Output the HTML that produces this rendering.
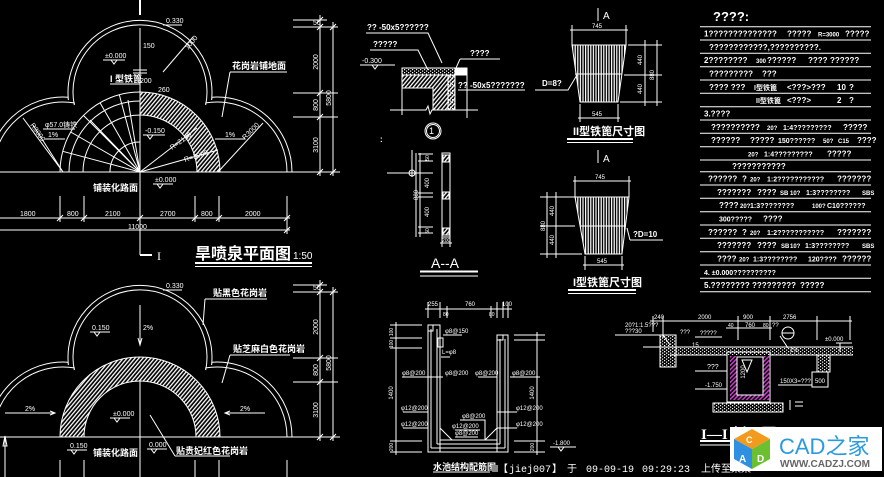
<!DOCTYPE html>
<html><head><meta charset="utf-8"><style>
html,body{margin:0;padding:0;background:#000;width:884px;height:477px;overflow:hidden}
svg{display:block}
text{font-family:"Liberation Sans","Noto Sans CJK SC",sans-serif;fill:#fff;stroke:none}
.s{font-size:7px}
.b{font-size:8px;font-weight:bold}
.k{font-size:9px;font-weight:bold}
</style></head><body>
<svg width="884" height="477" viewBox="0 0 884 477" xmlns="http://www.w3.org/2000/svg">
<defs>
<pattern id="h" width="3" height="3" patternUnits="userSpaceOnUse" patternTransform="rotate(40)"><rect width="1.3" height="3" fill="#fff"/></pattern>
<pattern id="v" width="2.6" height="4" patternUnits="userSpaceOnUse"><rect width="1.2" height="4" fill="#fff"/></pattern>
<pattern id="d" width="4" height="3" patternUnits="userSpaceOnUse"><rect x="0" y="0" width="1.2" height="1.2" fill="#fff"/><rect x="2" y="1.5" width="1.2" height="1.2" fill="#fff"/></pattern>
<pattern id="m" width="3" height="3" patternUnits="userSpaceOnUse" patternTransform="rotate(45)"><rect width="1.4" height="3" fill="#d040d0"/></pattern>
<g id="tre" stroke="#fff" fill="none" stroke-width="1">
<path d="M -12 172 A 75 75 0 0 1 68 97.2 L 68.4 100 A 72 72 0 1 1 211.6 100 L 212 97.2 A 75 75 0 0 1 292 172"/>
<path d="M -7 172 A 70 70 0 0 1 74.3 102.9 L 74.3 105 A 67 67 0 1 1 205.7 105 L 205.7 102.9 A 70 70 0 0 1 287 172"/>
<line x1="0" y1="172" x2="340" y2="172"/>
<line x1="293" y1="20" x2="327" y2="20"/>
<line x1="293" y1="27" x2="338" y2="27"/>
<line x1="293" y1="93" x2="338" y2="93"/>
<line x1="293" y1="117" x2="338" y2="117"/>
<line x1="320" y1="15" x2="320" y2="176"/>
<line x1="333" y1="22" x2="333" y2="176"/>
<path d="M317 23 L323 17 M317 30 L323 24 M317 96 L323 90 M317 120 L323 114 M317 175 L323 169 M330 30 L336 24 M330 175 L336 169"/>
</g>
</defs>

<!-- ========== TOP PLAN ========== -->
<use href="#tre"/>
<g stroke="#fff" fill="none" stroke-width="1">
<line x1="140" y1="0" x2="140" y2="15" stroke-width="2"/>
<line x1="140" y1="28" x2="140" y2="255"/>
<line x1="140" y1="255" x2="152" y2="255" stroke-width="2"/>
<line x1="133" y1="70" x2="147" y2="70"/><line x1="133" y1="73" x2="147" y2="73"/>
<!-- hatched quarter ring -->
<path d="M 220 172 A 80 80 0 0 0 140 92 L 140 115 A 57 57 0 0 1 197 172 Z" fill="url(#h)"/>
<!-- left fan -->
<path d="M 60 172 A 80 80 0 0 1 140 92"/>
<path d="M 69 172 A 71 71 0 0 1 140 101"/>
<path d="M 83 172 A 57 57 0 0 1 140 115"/>
<path d="M 110 172 A 30 30 0 0 1 140 142"/>
<path d="M140 172 L119.3 94.7 M140 172 L100 102.7 M140 172 L83.4 115.4 M140 172 L70.7 132 M140 172 L62.7 151.3 M140 172 L128 100 M140 172 L90 120"/>
<path d="M63 172 L23 118 M63 172 L33 125"/>
<path d="M218 172 L263 123"/>
<path d="M140 172 L197 128 M140 172 L218 150"/>
<path d="M163 72 L193 37"/>
<!-- bottom dims -->
<line x1="0" y1="218" x2="290" y2="218"/>
<line x1="0" y1="230" x2="290" y2="230"/>
<path d="M60 196 V222 M84 196 V222 M195 196 V222 M219 196 V222 M287 196 V234"/>
<path d="M57 221 L63 215 M81 221 L87 215 M137 221 L143 215 M192 221 L198 215 M216 221 L222 215 M284 221 L290 215 M284 233 L290 227"/>
<!-- leaders / underlines -->
<path d="M163 25 H182"/>
<path d="M103 60 H125 M111 60 L114 64 L117 60"/>
<path d="M110 84 H140"/>
<path d="M230 72 H287 M230 72 L222 117"/>
<path d="M43 129 H75"/>
<path d="M45 139 H65"/>
<path d="M143 135 H165 M147 135 L150 139 L153 135"/>
<path d="M215 139 H245"/>
<path d="M153 184 H173 M157 184 L160 188 L163 184"/>
<!-- title underline -->
<line x1="195" y1="263" x2="312" y2="263" stroke-width="2"/>
<line x1="195" y1="266.5" x2="312" y2="266.5"/>
</g>
<g>
<text x="166" y="23" class="s">0.330</text>
<text x="105" y="58" class="s">±0.000</text>
<text x="143" y="48" class="s">150</text>
<text x="110" y="82" class="k">I 型铁篦</text>
<text x="130" y="83" class="s" dx="10">200</text>
<text x="158" y="92" class="s">260</text>
<text x="232" y="69" class="k">花岗岩铺地面</text>
<text x="45" y="127" class="s">φ57.0铸铁</text>
<text x="48" y="137" class="s">1%</text>
<text x="145" y="133" class="s">-0.150</text>
<text x="225" y="137" class="s">1%</text>
<text x="93" y="191" class="k">铺装化路面</text>
<text x="155" y="182" class="s">±0.000</text>
<text x="20" y="216" class="s">1800</text>
<text x="67" y="216" class="s">800</text>
<text x="105" y="216" class="s">2100</text>
<text x="160" y="216" class="s">2700</text>
<text x="201" y="216" class="s">800</text>
<text x="245" y="216" class="s">2000</text>
<text x="128" y="229" class="s">11000</text>
<text x="157" y="260" style="font-size:12px;font-family:'Liberation Serif',serif">I</text>
<text x="195" y="259" style="font-size:16px;font-weight:bold">旱喷泉平面图</text>
<text x="293" y="259" style="font-size:10px">1:50</text>
<text transform="translate(318,62) rotate(-90)" class="s" text-anchor="middle">2000</text>
<text transform="translate(318,105) rotate(-90)" class="s" text-anchor="middle">800</text>
<text transform="translate(318,145) rotate(-90)" class="s" text-anchor="middle">3100</text>
<text transform="translate(331,98) rotate(-90)" class="s" text-anchor="middle">5800</text>
<text x="313" y="25" class="s">50</text>
<text transform="translate(188,50) rotate(-50)" class="s">1000</text>
<text transform="translate(245,140) rotate(-45)" class="s">R3000</text>
<text transform="translate(30,125) rotate(55)" class="s">R3000</text>
<text transform="translate(172,150) rotate(-35)" class="s">R=2130</text>
<text transform="translate(185,162) rotate(-18)" class="s">R=3000</text>
</g>

<!-- ========== LOWER PLAN ========== -->
<use href="#tre" y="265"/>
<g stroke="#fff" fill="none" stroke-width="1">
<path d="M 60 437 A 80 80 0 0 1 220 437 L 196 437 A 56 56 0 0 0 84 437 Z" fill="url(#h)"/>
<line x1="140" y1="305" x2="140" y2="345"/>
<path d="M138 338 L140 345 L142 338"/>
<line x1="140" y1="380" x2="140" y2="477"/>
<path d="M60 460 V477 M84 460 V477 M195 460 V477 M219 460 V477 M287 460 V477"/>
<path d="M163 290 H182"/>
<path d="M205 299 H267 M205 299 L203 325"/>
<path d="M90 332 H110 M94 332 L97 336 L100 332"/>
<path d="M230 355 H290 M230 355 L222 383"/>
<path d="M5 413 H55 M50 411 L55 413 L50 415"/>
<path d="M110 418 H130 M114 418 L117 422 L120 418"/>
<path d="M225 413 H265 M230 411 L225 413 L230 415"/>
<path d="M67 450 H87 M71 450 L74 454 L77 450"/>
<path d="M147 449 H167 M151 449 L154 453 L157 449"/>
<path d="M175 456 H230 M175 456 L150 415"/>
<path d="M5 437 V477 M3 446 L5 436 L7 446 Z"/>
</g>
<g>
<text x="166" y="288" class="s">0.330</text>
<text x="213" y="296" class="k">贴黑色花岗岩</text>
<text x="92" y="330" class="s">0.150</text>
<text x="143" y="330" class="s">2%</text>
<text x="233" y="352" class="k">贴芝麻白色花岗岩</text>
<text x="25" y="411" class="s">2%</text>
<text x="113" y="416" class="s">±0.000</text>
<text x="240" y="411" class="s">2%</text>
<text x="70" y="448" class="s">0.150</text>
<text x="93" y="456" class="k">铺装化路面</text>
<text x="149" y="447" class="s">0.000</text>
<text x="176" y="454" class="k">贴贵妃红色花岗岩</text>
<text transform="translate(318,327) rotate(-90)" class="s" text-anchor="middle">2000</text>
<text transform="translate(318,370) rotate(-90)" class="s" text-anchor="middle">800</text>
<text transform="translate(318,410) rotate(-90)" class="s" text-anchor="middle">3100</text>
<text transform="translate(331,363) rotate(-90)" class="s" text-anchor="middle">5800</text>
<text x="313" y="290" class="s">50</text>
</g>

<!-- ========== DETAIL 1 ========== -->
<g stroke="#fff" fill="none" stroke-width="1">
<path d="M366 33 H428 L442 63"/>
<path d="M370 50 H418 L428 70"/>
<path d="M360 65 H395 M372 65 L375 69 L378 65"/>
<path d="M460 59 H500 M460 59 L456 68"/>
<rect x="402" y="68" width="53" height="7" fill="url(#d)"/>
<rect x="455" y="68" width="12" height="7" fill="#fff"/>
<path d="M402 75 H455 V110 H433 V88 H402 Z" fill="url(#h)"/>
<rect x="448" y="75" width="7" height="35" fill="url(#d)"/>
<path d="M390 110 H426 L428 106 L430 114 L432 110 H478"/>
<path d="M402 88 V115 M467 75 V118"/>
<path d="M458 90 H525"/>
<circle cx="433" cy="131" r="8"/><circle cx="433" cy="131" r="6.5"/>
<!-- A-A -->
<path d="M412 150 V177 M416 153 V237 M387 173 H418"/>
<circle cx="412" cy="173" r="3"/>
<path d="M420 153 V237 M418 154 H433 M418 161 H433 M418 173 H433 M418 193 H433 M418 197 H433 M418 227 H433 M418 233 H433"/>
<rect x="442" y="153" width="8" height="84"/>
<rect x="443" y="155" width="6" height="7" fill="url(#h)"/>
<rect x="443" y="192" width="6" height="7" fill="url(#h)"/>
<rect x="443" y="228" width="6" height="7" fill="url(#h)"/>
<path d="M442 237 V247 M450 237 V247 M440 243 H452"/>
<line x1="420" y1="271.5" x2="478" y2="271.5" stroke-width="2"/>
<line x1="420" y1="276" x2="478" y2="276"/>
</g>
<g>
<text x="367" y="30" class="b">?? -50x5??????</text>
<text x="373" y="47" class="b">?????</text>
<text x="362" y="63" class="s">-0.300</text>
<text x="470" y="56" class="b">????</text>
<text x="458" y="88" class="b">?? -50x5???????</text>
<text x="429" y="134" style="font-size:9px">1</text>
<text x="380" y="142" class="b">:</text>
<text transform="translate(429,158) rotate(-90)" style="font-size:5px" text-anchor="middle">50</text>
<text transform="translate(429,183) rotate(-90)" style="font-size:6px" text-anchor="middle">400</text>
<text transform="translate(429,212) rotate(-90)" style="font-size:6px" text-anchor="middle">400</text>
<text transform="translate(429,231) rotate(-90)" style="font-size:5px" text-anchor="middle">50</text>
<text transform="translate(418,195) rotate(-90)" style="font-size:6px" text-anchor="middle">880</text>
<text x="442" y="242" style="font-size:5px">200</text>
<text x="431" y="268" style="font-size:14px">A--A</text>
</g>

<!-- ========== GRATES ========== -->
<g stroke="#fff" fill="none" stroke-width="1">
<path d="M598 8 V21"/>
<path d="M570 30 H628 M572 25 V45 M626 25 V45"/>
<polygon points="572,45 626,45 618,102 580,102" fill="url(#v)"/>
<line x1="575" y1="74" x2="622" y2="74"/>
<path d="M578 118 H620 M580 104 V122 M618 104 V122"/>
<path d="M628 45 H662 M624 75 H662 M620 102 H662 M645 40 V106 M657 40 V106"/>
<path d="M535 90 H568 L577 75"/>
<line x1="567" y1="139" x2="633" y2="139" stroke-width="2"/>
<line x1="567" y1="142.5" x2="633" y2="142.5"/>
<path d="M598 150 V163"/>
<path d="M573 181 H631 M575 176 V197 M629 176 V197"/>
<polygon points="575,197 629,197 622,254 585,254" fill="url(#v)"/>
<line x1="580" y1="226" x2="625" y2="226"/>
<path d="M583 265 H624 M585 256 V270 M622 256 V270"/>
<path d="M540 197 H575 M540 226 H575 M540 254 H582 M547 192 V258 M556 192 V258"/>
<path d="M630 240 L627 228 M630 240 L633 240 H663"/>
<line x1="568" y1="290" x2="636" y2="290" stroke-width="2"/>
<line x1="568" y1="293.5" x2="636" y2="293.5"/>
</g>
<g>
<text x="603" y="19" style="font-size:10px">A</text>
<text x="592" y="28" style="font-size:6px">745</text>
<text x="592" y="116" style="font-size:6px">545</text>
<text transform="translate(642,60) rotate(-90)" style="font-size:6px" text-anchor="middle">440</text>
<text transform="translate(642,89) rotate(-90)" style="font-size:6px" text-anchor="middle">440</text>
<text transform="translate(654,75) rotate(-90)" style="font-size:6px" text-anchor="middle">880</text>
<text x="542" y="86" class="b">D=8?</text>
<text x="573" y="135" style="font-size:11px;font-weight:bold">II型铁篦尺寸图</text>
<text x="603" y="162" style="font-size:10px">A</text>
<text x="595" y="179" style="font-size:6px">745</text>
<text x="597" y="263" style="font-size:6px">545</text>
<text transform="translate(545,226) rotate(-90)" style="font-size:6px" text-anchor="middle">880</text>
<text transform="translate(554,211) rotate(-90)" style="font-size:6px" text-anchor="middle">440</text>
<text transform="translate(554,240) rotate(-90)" style="font-size:6px" text-anchor="middle">440</text>
<text x="633" y="237" class="b">?D=10</text>
<text x="573" y="286" style="font-size:11px;font-weight:bold">I型铁篦尺寸图</text>
</g>

<!-- ========== NOTES ========== -->
<g stroke="#fff" stroke-width="1">
<path d="M700 26.7 H871 M700 40 H871 M700 53.3 H871 M700 66.7 H871 M700 80 H871 M700 93.3 H871 M700 106.7 H871 M700 120 H871 M700 133.3 H871 M700 146.7 H871 M700 160 H871 M700 171.7 H871 M700 185 H871 M700 198.3 H871 M700 211.7 H871 M700 225 H871 M700 238.3 H871 M700 251.7 H871 M700 265 H871 M700 278.3 H871 M700 291.7 H871"/>
</g>
<g class="b">
<text x="713" y="21" style="font-size:13px">????:</text>
<text y="36.5" class="b"><tspan x="704">1??????????????</tspan><tspan x="787">?????</tspan><tspan x="818" style="font-size:6px">R=3000</tspan><tspan x="845">?????</tspan></text>
<text y="50" class="b"><tspan x="709">????????????,??????????.</tspan></text>
<text y="63" class="b"><tspan x="704">2????????</tspan><tspan x="756" style="font-size:6px">300</tspan><tspan x="767">??????</tspan><tspan x="808">????</tspan><tspan x="830">??????</tspan></text>
<text y="76.5" class="b"><tspan x="709">?????????</tspan><tspan x="762">???</tspan></text>
<text y="90" class="b"><tspan x="709">???? ???</tspan><tspan x="754" style="font-size:7px">I型铁篦</tspan><tspan x="787">&lt;???&gt;???</tspan><tspan x="837">10</tspan><tspan x="849">?</tspan></text>
<text y="103" class="b"><tspan x="756" style="font-size:7px">II型铁篦</tspan><tspan x="787">&lt;???&gt;</tspan><tspan x="837">2</tspan><tspan x="849">?</tspan></text>
<text y="116.5" class="b"><tspan x="704">3.????</tspan></text>
<text y="130" class="b"><tspan x="711">??????????</tspan><tspan x="767" style="font-size:6px">20?</tspan><tspan x="783" style="font-size:7px">1:4?????????</tspan><tspan x="843">?????</tspan></text>
<text y="143" class="b"><tspan x="711">??????</tspan><tspan x="750">?????</tspan><tspan x="778" style="font-size:7px">150??????</tspan><tspan x="823" style="font-size:6px">50?</tspan><tspan x="838" style="font-size:6px">C15</tspan><tspan x="857">????</tspan></text>
<text y="156.5" class="b"><tspan x="748" style="font-size:6px">20?</tspan><tspan x="764" style="font-size:7px">1:4?????????</tspan><tspan x="827">?????</tspan></text>
<text y="169" class="b"><tspan x="732">???????????</tspan></text>
<text y="181.5" class="b"><tspan x="708">??????</tspan><tspan x="742">?</tspan><tspan x="750" style="font-size:6px">20?</tspan><tspan x="767" style="font-size:7px">1:2???????????</tspan><tspan x="837">???????</tspan></text>
<text y="195" class="b"><tspan x="717">???????</tspan><tspan x="757">????</tspan><tspan x="780" style="font-size:6px">SB</tspan><tspan x="790" style="font-size:6px">10?</tspan><tspan x="806" style="font-size:7px">1:3????????</tspan><tspan x="862" style="font-size:6px">SBS</tspan></text>
<text y="208" class="b"><tspan x="719">????</tspan><tspan x="740" style="font-size:6px">20?</tspan><tspan x="750" style="font-size:7px">1:3????????</tspan><tspan x="812" style="font-size:6px">100?</tspan><tspan x="827" style="font-size:7px">C10??????</tspan></text>
<text y="221.5" class="b"><tspan x="719" style="font-size:7px">300?????</tspan><tspan x="763">????</tspan></text>
<text y="235" class="b"><tspan x="708">??????</tspan><tspan x="742">?</tspan><tspan x="750" style="font-size:6px">20?</tspan><tspan x="767" style="font-size:7px">1:2???????????</tspan><tspan x="837">???????</tspan></text>
<text y="248" class="b"><tspan x="717">???????</tspan><tspan x="757">????</tspan><tspan x="781" style="font-size:6px">SB</tspan><tspan x="790" style="font-size:6px">10?</tspan><tspan x="805" style="font-size:7px">1:3????????</tspan><tspan x="862" style="font-size:6px">SBS</tspan></text>
<text y="261.5" class="b"><tspan x="717">????</tspan><tspan x="739" style="font-size:6px">20?</tspan><tspan x="753" style="font-size:7px">1:3????????</tspan><tspan x="808" style="font-size:7px">120????</tspan><tspan x="842">??????</tspan></text>
<text y="275" class="b"><tspan x="704" style="font-size:7px">4. ±0.000??????????</tspan></text>
<text y="288" class="b"><tspan x="704">5.????????</tspan><tspan x="752">?????????</tspan><tspan x="800">?????</tspan></text>
</g>

<!-- ========== TANK SECTION ========== -->
<g stroke="#fff" fill="none" stroke-width="1">
<path d="M425 309 H512 M428 302 V318 M440 302 V318 M447 306 V318 M491 306 V318 M497 302 V318 M503 302 V318 M508 302 V318"/>
<rect x="428" y="325" width="12" height="127"/>
<path d="M431 329 V448 M437 329 V444"/>
<rect x="428" y="325" width="5" height="6"/>
<rect x="497" y="335" width="11" height="117"/>
<path d="M500 339 V444 M505 339 V448"/>
<rect x="497" y="335" width="6" height="5"/>
<path d="M440 440 H497 M428 452 H508 M431 448 H505 M437 444 H500"/>
<path d="M440 428 L452 440 M497 428 L485 440"/>
<rect x="438" y="338" width="5" height="9"/>
<path d="M443 335 H462 M441 357 H450"/>
<path d="M396 322 V455 M390 325 H422 M390 338 H422 M390 348 H422 M390 441 H422 M390 452 H422"/>
<path d="M537 332 V455 M514 335 H545 M514 340 H545 M514 441 H545 M514 452 H545"/>
<path d="M402 377 H428 M443 377 H428 M478 377 H497 M510 377 H540"/>
<path d="M403 412 H428 M517 412 H497 M403 428 H428 M517 428 H497"/>
<path d="M460 420 H485 V440 M455 430 H480 M455 437 H478"/>
<path d="M550 447 H576 M558 447 L561 451 L564 447"/>
<line x1="433" y1="472" x2="490" y2="472"/>
</g>
<g style="font-size:6px">
<text x="428" y="306" style="font-size:6px">255</text>
<text x="465" y="306" style="font-size:6px">760</text>
<text x="502" y="306" style="font-size:6px">100</text>
<text x="443" y="316" style="font-size:5px">80</text>
<text x="489" y="316" style="font-size:5px">80</text>
<text x="445" y="333" style="font-size:6px">φ8@150</text>
<text x="442" y="354" style="font-size:6px">L=φ8</text>
<text x="402" y="375" style="font-size:6px">φ8@200</text>
<text x="445" y="375" style="font-size:6px">φ8@200</text>
<text x="475" y="375" style="font-size:6px">φ8@200</text>
<text x="512" y="375" style="font-size:6px">φ8@200</text>
<text x="401" y="410" style="font-size:6px">φ12@200</text>
<text x="516" y="410" style="font-size:6px">φ12@200</text>
<text x="401" y="426" style="font-size:6px">φ12@200</text>
<text x="516" y="426" style="font-size:6px">φ12@200</text>
<text x="462" y="418" style="font-size:6px">φ8@200</text>
<text x="452" y="428" style="font-size:6px">φ12@200</text>
<text x="455" y="435" style="font-size:6px">φ8@200</text>
<text transform="translate(393,332) rotate(-90)" style="font-size:5px" text-anchor="middle">100</text>
<text transform="translate(393,344) rotate(-90)" style="font-size:5px" text-anchor="middle">100</text>
<text transform="translate(393,393) rotate(-90)" style="font-size:6px" text-anchor="middle">1400</text>
<text transform="translate(393,447) rotate(-90)" style="font-size:5px" text-anchor="middle">200</text>
<text transform="translate(534,393) rotate(-90)" style="font-size:6px" text-anchor="middle">1400</text>
<text transform="translate(534,447) rotate(-90)" style="font-size:5px" text-anchor="middle">200</text>
<text x="553" y="445" style="font-size:6px">-1.800</text>
<text x="433" y="470" style="font-size:9px;font-weight:bold">水池结构配筋图</text>
</g>
<rect x="492" y="465" width="6" height="7" fill="#888"/>

<!-- ========== I-I SECTION ========== -->
<g stroke="#fff" fill="none" stroke-width="1">
<path d="M650 321 H852 M653 316 V332 M663 316 V338 M738 316 V340 M770 316 V340 M817 316 V340 M850 316 V340"/>
<path d="M726 328 H772"/>
<path d="M615 335 H663 L670 345"/>
<rect x="663" y="347" width="190" height="8" fill="url(#d)" stroke="none"/>
<path d="M643 347 H853 M670 355 H727 M770 355 H853"/>
<rect x="660" y="335" width="16" height="32" fill="url(#d)"/>
<rect x="727" y="352" width="43" height="50"/>
<rect x="730" y="356" width="7" height="42" fill="url(#m)" stroke="none"/>
<rect x="763" y="356" width="7" height="42" fill="url(#m)" stroke="none"/>
<rect x="730" y="395" width="40" height="5" fill="url(#m)" stroke="none"/>
<rect x="737" y="357" width="26" height="38"/>
<path d="M742 360 L752 360 L747 372 Z"/>
<rect x="713" y="403" width="70" height="9" fill="url(#d)"/>
<rect x="817" y="355" width="13" height="17" fill="url(#d)"/>
<rect x="812" y="372" width="16" height="15"/>
<circle cx="788" cy="333" r="6"/><path d="M782 333 H794 M780 336 L788 348"/>
<path d="M836 343 H852 M840 343 V352"/>
<path d="M695 337 H722 M695 371 H727 M695 389 H727 M778 385 H812"/>
<path d="M790 400 V410 M795 402 H803 M795 406 H803"/>
<line x1="700" y1="441" x2="730" y2="441" stroke-width="2"/>
<line x1="700" y1="445" x2="730" y2="445"/>
</g>
<g>
<text x="654" y="319" style="font-size:6px">240</text>
<text x="698" y="319" style="font-size:6px">2000</text>
<text x="743" y="319" style="font-size:6px">900</text>
<text x="783" y="319" style="font-size:6px">2756</text>
<text x="728" y="327" style="font-size:5px">40</text>
<text x="745" y="327" style="font-size:6px">760</text>
<text x="763" y="327" style="font-size:5px">80</text>
<text x="772" y="327" style="font-size:6px">??</text>
<text x="625" y="327" style="font-size:6px">20?1:1.5???</text>
<text x="625" y="333" style="font-size:6px">???30</text>
<text x="680" y="334" style="font-size:6px">???</text>
<text x="700" y="335" style="font-size:6px">?????</text>
<text x="692" y="347" style="font-size:6px">15</text>
<text x="790" y="352" style="font-size:6px">1%</text>
<text x="825" y="341" style="font-size:6px">±0.000</text>
<text x="707" y="369" style="font-size:7px">???</text>
<text x="705" y="387" style="font-size:6px">-1.750</text>
<text x="780" y="383" style="font-size:6px">150X3=???</text>
<text x="815" y="383" style="font-size:6px">500</text>
<text transform="translate(745,372) rotate(-90)" style="font-size:6px" text-anchor="middle">1200</text>
<text x="701" y="439" style="font-size:15px;font-weight:bold;font-family:'Liberation Serif',serif">I—I 剖面图</text>
</g>

<!-- bottom upload text -->
<g style="font-family:'Liberation Mono','Noto Sans CJK SC',monospace;font-size:10px">
<text x="498" y="472" style="font-family:'Liberation Mono','Noto Sans CJK SC',monospace;font-size:10px">【</text>
<text x="509" y="472" style="font-family:'Liberation Mono',monospace;font-size:10px">jiej007</text>
<text x="552" y="472" style="font-family:'Liberation Mono','Noto Sans CJK SC',monospace;font-size:10px">】</text>
<text x="567" y="472" style="font-family:'Liberation Mono','Noto Sans CJK SC',monospace;font-size:10px">于</text>
<text x="586" y="472" style="font-family:'Liberation Mono',monospace;font-size:10px">09-09-19</text>
<text x="642" y="472" style="font-family:'Liberation Mono',monospace;font-size:10px">09:29:23</text>
<text x="701" y="472" style="font-family:'Liberation Mono','Noto Sans CJK SC',monospace;font-size:10px">上传至某某</text>
</g>

<!-- watermark -->
<rect x="730" y="427" width="152" height="44" fill="#fff"/>
<polygon points="752,429 770,439 752,449 734,439" fill="#f29a1e"/>
<polygon points="734,439 752,449 752,469 734,459" fill="#2f8fe0"/>
<polygon points="752,449 770,439 770,459 752,469" fill="#6cbf2e"/>
<text x="746" y="443" style="font-size:9px;font-weight:bold;fill:#fff">C</text>
<text x="739" y="462" style="font-size:10px;font-weight:bold;fill:#fff">A</text>
<text x="757" y="462" style="font-size:10px;font-weight:bold;fill:#fff">D</text>
<text x="779" y="454" style="font-size:22px;fill:#2b9be0">CAD之家</text>
<text x="780" y="467" style="font-size:10px;font-weight:bold;fill:#666">WWW.CADZJ.COM</text>
</svg>
</body></html>
